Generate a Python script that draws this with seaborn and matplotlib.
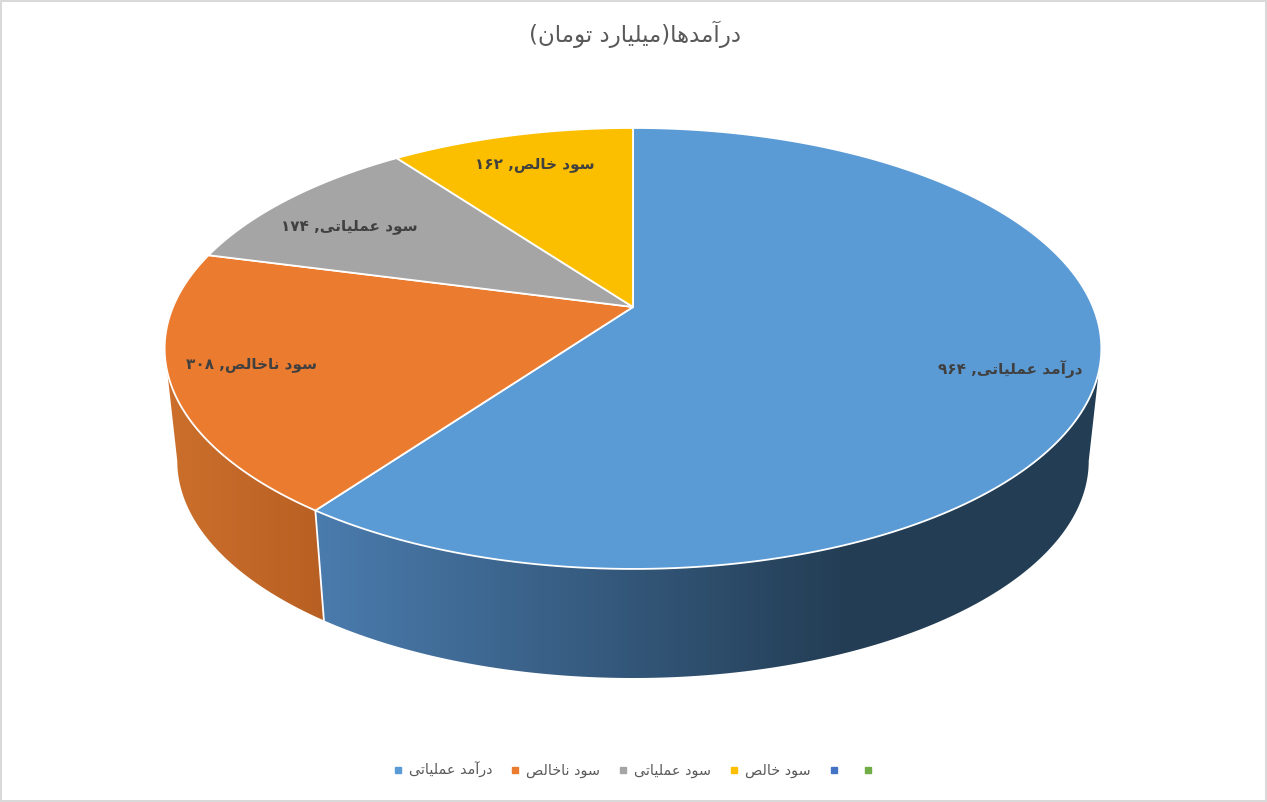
import numpy as np
import seaborn as sns
import matplotlib.pyplot as plt
from matplotlib.lines import Line2D
from matplotlib.patches import Polygon

# data
title = "درآمدها(میلیارد تومان)"
categories = ["درآمد عملیاتی", "سود ناخالص", "سود عملیاتی", "سود خالص"]
values = [964, 308, 174, 162]
colors = ["#5B9BD5", "#EB7B2F", "#A5A5A5", "#FBBF00"]
extra_colors = ["#4472C4", "#70AD47"]
label_pos = [(1010, 369), (252, 365), (349, 227), (535, 164)]

# matplotlib has no arabic shaping, so pick the presentation forms by hand
# letter: isolated, final, initial, medial
forms = {
    "ا": "\uFE8D\uFE8E", "آ": "\uFE81\uFE82", "د": "\uFEA9\uFEAA",
    "ر": "\uFEAD\uFEAE", "و": "\uFEED\uFEEE",
    "ه": "\uFEE9\uFEEA\uFEEB\uFEEC", "م": "\uFEE1\uFEE2\uFEE3\uFEE4",
    "ی": "\uFBFC\uFBFD\uFBFE\uFBFF", "ل": "\uFEDD\uFEDE\uFEDF\uFEE0",
    "ت": "\uFE95\uFE96\uFE97\uFE98", "ن": "\uFEE5\uFEE6\uFEE7\uFEE8",
    "ع": "\uFEC9\uFECA\uFECB\uFECC", "س": "\uFEB1\uFEB2\uFEB3\uFEB4",
    "خ": "\uFEA5\uFEA6\uFEA7\uFEA8", "ص": "\uFEB9\uFEBA\uFEBB\uFEBC",
}
digits_fa = str.maketrans("0123456789", "۰۱۲۳۴۵۶۷۸۹")


def shape(text):
    out = []
    for i, ch in enumerate(text):
        if ch not in forms:
            out.append({"(": ")", ")": "("}.get(ch, ch))
            continue
        prev = text[i - 1] if i > 0 else ""
        nxt = text[i + 1] if i + 1 < len(text) else ""
        joins_prev = prev in forms and len(forms[prev]) == 4
        joins_next = nxt in forms and len(forms[ch]) == 4
        f = forms[ch]
        if joins_prev and joins_next:
            out.append(f[3])
        elif joins_next:
            out.append(f[2])
        elif joins_prev:
            out.append(f[1])
        else:
            out.append(f[0])
    return "".join(out[::-1])


def data_label(cat, val):
    return str(val).translate(digits_fa) + " ," + shape(cat)


# pie geometry, perspective disc projected on the page (pixels)
cx = 633.0
k = 0.188
top = dict(a=460.0, b=212.7, y0=307.0)
bottom = dict(a=447.6, b=209.5, y0=420.0)
# where the rim turns back, the wall is hidden past these angles
turn = np.degrees(np.arccos(-k))


def rim(theta, a, b, y0):
    # theta in degrees, clockwise from the back of the disc
    t = np.radians(theta)
    u, v = np.sin(t), np.cos(t)
    w = 1 + k * v
    return cx + a * u / w, y0 - b * v / w


sns.set_theme(style="white")
plt.rcParams["font.family"] = ["DejaVu Sans"]

fig = plt.figure(figsize=(12.67, 8.02), dpi=100)
ax = fig.add_axes([0, 0, 1, 1])
for s in ax.spines.values():
    s.set_visible(True)
    s.set_color("#D9D9D9")
    s.set_linewidth(2.88)

bounds = np.concatenate([[0], np.cumsum(values)]) / sum(values) * 360

# side wall, a horizontal gradient clipped to the wall outline
walls = [(turn, bounds[1], ["#4A7BAD", "#233D54"], 320, 850),
         (bounds[1], 360 - turn, ["#CC6F2C", "#B86023"], 170, 320)]
for start, stop, ramp, x0, x1 in walls:
    th = np.linspace(start, stop, 300)
    xt, yt = rim(th, **top)
    xb, yb = rim(th, **bottom)
    outline = Polygon(np.c_[np.r_[xt, xb[::-1]], np.r_[yt, yb[::-1]]],
                      transform=ax.transData, fc="none", ec="none")
    ax.add_patch(outline)
    xs = np.arange(150, 1115)
    grad = np.clip((xs - x0) / (x1 - x0), 0, 1)[None, :]
    im = ax.imshow(grad, extent=(150, 1115, 700, 300), aspect="auto", zorder=1,
                   cmap=sns.blend_palette(ramp, as_cmap=True), vmin=0, vmax=1)
    im.set_clip_path(outline)

ax.set_xlim(0, 1267)
ax.set_ylim(802, 0)
ax.set_xticks([])
ax.set_yticks([])

# divider on the wall between blue and orange
xa, ya = rim(bounds[1], **top)
xb, yb = rim(bounds[1], **bottom)
ax.plot([xa, xb], [ya, yb], color="white", lw=1.3, zorder=2)

# top face
for i, col in enumerate(colors):
    th = np.linspace(bounds[i], bounds[i + 1], 200)
    xs, ys = rim(th, **top)
    ax.fill(np.r_[cx, xs], np.r_[top["y0"], ys], facecolor=col,
            edgecolor="white", lw=1.3, joinstyle="round", zorder=3)

# data labels
for cat, val, (lx, ly) in zip(categories, values, label_pos):
    ax.text(lx, ly, data_label(cat, val), ha="center", va="center",
            fontsize=11, fontweight="bold", color="#404040", zorder=4)

ax.text(635, 34, shape(title), ha="center", va="center", fontsize=16.5, color="#595959")

handles = [Line2D([], [], ls="", marker="s", ms=5, color=c) for c in colors + extra_colors]
names = [shape(c) for c in categories] + ["", ""]
ax.legend(handles, names, ncols=6, loc="center", bbox_to_anchor=(636 / 1267, 1 - 770 / 802),
          frameon=False, fontsize=10.4, labelcolor="#595959", handlelength=0.6,
          handletextpad=0.45, columnspacing=1.3, borderpad=0)

fig.savefig("out.png", dpi=100)
